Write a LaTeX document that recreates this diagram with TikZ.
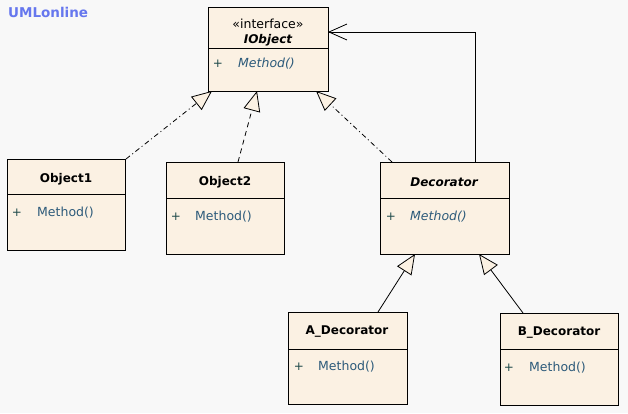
\documentclass[tikz,border=0pt]{standalone}
\usepackage{fontspec}
\setmainfont{DejaVu Sans}
\usetikzlibrary{arrows.meta,calc}
\definecolor{beige}{HTML}{FBF1E3}
\definecolor{methc}{HTML}{2C5A7A}
\definecolor{plusc}{HTML}{1E4A4A}
\definecolor{umlblue}{HTML}{6677EE}
\definecolor{bgc}{HTML}{F8F8F8}
\begin{document}
\begin{tikzpicture}[x=1pt,y=-1pt,
  cls/.style={draw=black, fill=beige, line width=1pt, anchor=north west, inner sep=0pt, outer sep=0pt},
  cname/.style={font=\fontsize{12}{14}\selectfont\bfseries, inner sep=0pt},
  iname/.style={font=\fontsize{12}{14}\selectfont\bfseries\itshape, inner sep=0pt},
  stereo/.style={font=\fontsize{12.5}{14}\selectfont, inner sep=0pt},
  plus/.style={font=\fontsize{12}{14}\selectfont, text=plusc, inner sep=0pt},
  meth/.style={font=\fontsize{12.5}{14}\selectfont, text=methc, anchor=west, inner sep=0pt},
  imeth/.style={meth, font=\fontsize{12.5}{14}\selectfont\itshape},
  divider/.style={line width=1pt},
  conn/.style={line width=0.8pt, draw=black},
  real/.style={conn, -{Triangle[length=20pt,width=17pt,fill=beige]}},
  gen/.style={conn, -{Triangle[length=20pt,width=17pt,fill=beige]}},
  dashdot/.style={dash pattern=on 5pt off 3pt on 1pt off 3pt},
  dsh/.style={dash pattern=on 5pt off 4pt},
  assoc/.style={conn, -{Straight Barb[length=18pt,width=16pt]}}
]
\fill[bgc] (0,0) rectangle (628,413);
\useasboundingbox (0,0) rectangle (628,413);

\node[anchor=west, text=umlblue, font=\fontsize{13.5}{15}\selectfont\bfseries, inner sep=0pt] (logo) at (8,12) {UMLonline};

% IObject
\node[cls, minimum width=120pt, minimum height=84pt] (iobj) at (208,7) {};
\draw[divider] (iobj.west |- 0,48) -- (iobj.east |- 0,48);
\node[stereo] (iobjst) at (268,24) {«interface»};
\node[iname] (iobjn) at (268,40.5) {IObject};
\node[plus] (iobjp) at (218,64) {+};
\node[imeth] (iobjm) at (238,64) {Method()};

% Object1
\node[cls, minimum width=118pt, minimum height=91pt] (o1) at (7,159) {};
\draw[divider] (o1.west |- 0,194) -- (o1.east |- 0,194);
\node[cname] (o1n) at (66,179) {Object1};
\node[plus] (o1p) at (17,213) {+};
\node[meth] (o1m) at (37,213) {Method()};

% Object2
\node[cls, minimum width=118pt, minimum height=92pt] (o2) at (166,162) {};
\draw[divider] (o2.west |- 0,198) -- (o2.east |- 0,198);
\node[cname] (o2n) at (225,182) {Object2};
\node[plus] (o2p) at (176,217) {+};
\node[meth] (o2m) at (195,217) {Method()};

% Decorator
\node[cls, minimum width=129pt, minimum height=92pt] (dec) at (380,162) {};
\draw[divider] (dec.west |- 0,198) -- (dec.east |- 0,198);
\node[iname] (decn) at (444,182) {Decorator};
\node[plus] (decp) at (391,217) {+};
\node[imeth] (decm) at (410,217) {Method()};

% A_Decorator
\node[cls, minimum width=119pt, minimum height=92pt] (adec) at (288,312) {};
\draw[divider] (adec.west |- 0,349) -- (adec.east |- 0,349);
\node[cname] (adecn) at (347,332) {A\_Decorator};
\node[plus] (adecp) at (299,367) {+};
\node[meth] (adecm) at (318,367) {Method()};

% B_Decorator
\node[cls, minimum width=118pt, minimum height=92pt] (bdec) at (500,313) {};
\draw[divider] (bdec.west |- 0,349) -- (bdec.east |- 0,349);
\node[cname] (bdecn) at (559,333) {B\_Decorator};
\node[plus] (bdecp) at (509,368) {+};
\node[meth] (bdecm) at (529,368) {Method()};

% connectors
\draw[real, dashdot] ($(o1.north east)+(1,0)$) -- ($(iobj.south west)+(4,0)$);
\draw[real, dsh] ($(o2.north west)+(72,0)$) -- ($(iobj.south west)+(49,0)$);
\draw[real, dashdot] ($(dec.north west)+(12,0)$) -- ($(iobj.south east)+(-12,0)$);
\draw[assoc] ($(dec.north west)+(95,0)$) |- ($(iobj.north east)+(0,25)$);
\draw[gen] ($(adec.north west)+(90,0)$) -- ($(dec.south west)+(35,0)$);
\draw[gen] ($(bdec.north west)+(23,0)$) -- ($(dec.south east)+(-30,0)$);
\end{tikzpicture}
\end{document}
